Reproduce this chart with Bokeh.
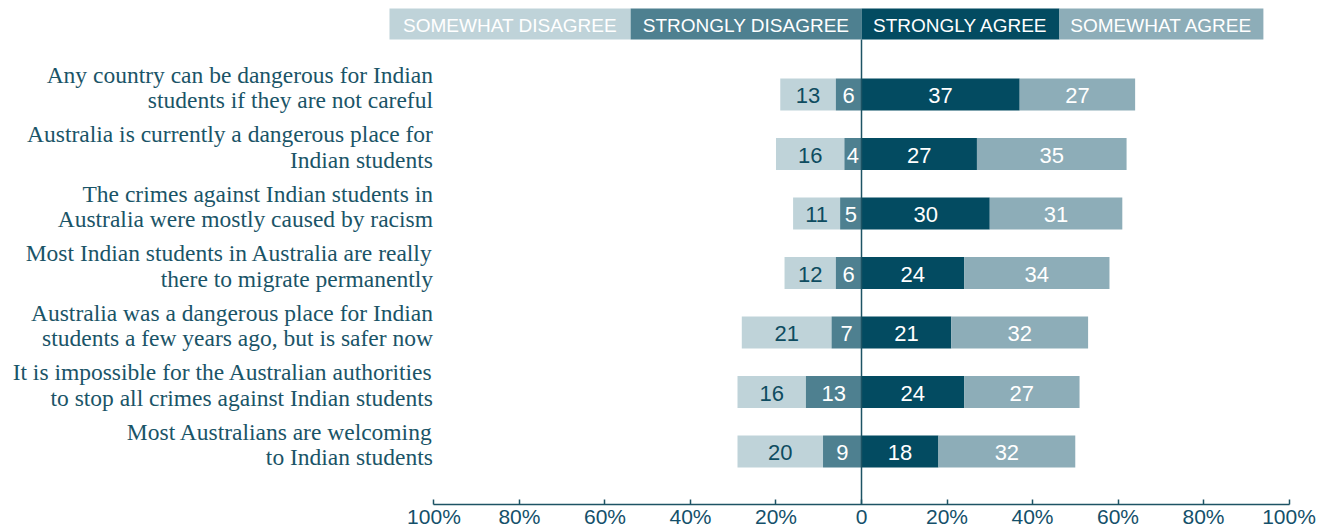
from bokeh.plotting import figure
from bokeh.models import Range1d, FixedTicker, ColumnDataSource
from bokeh.core.properties import value
from bokeh.embed import file_html
from bokeh.resources import INLINE

# ---------------- data ----------------
statements = [
    "Any country can be dangerous for Indian\nstudents if they are not careful",
    "Australia is currently a dangerous place for\nIndian students",
    "The crimes against Indian students in\nAustralia were mostly caused by racism",
    "Most Indian students in Australia are really\nthere to migrate permanently",
    "Australia was a dangerous place for Indian\nstudents a few years ago, but is safer now",
    "It is impossible for the Australian authorities\nto stop all crimes against Indian students",
    "Most Australians are welcoming\nto Indian students",
]
somewhat_disagree = [13, 16, 11, 12, 21, 16, 20]
strongly_disagree = [6, 4, 5, 6, 7, 13, 9]
strongly_agree = [37, 27, 30, 24, 21, 24, 18]
somewhat_agree = [27, 35, 31, 34, 32, 27, 32]
series_names = ["SOMEWHAT DISAGREE", "STRONGLY DISAGREE", "STRONGLY AGREE", "SOMEWHAT AGREE"]
tick_values = [-100, -80, -60, -40, -20, 0, 20, 40, 60, 80, 100]
tick_labels = ["100%", "80%", "60%", "40%", "20%", "0", "20%", "40%", "60%", "80%", "100%"]

# ---------------- style ----------------
C_SWD = "#BFD3D9"
C_SD = "#4E8090"
C_SA = "#034B61"
C_SWA = "#8DADB8"
TXT = "#1A5467"
DARK_TXT = "#0E4C60"
SANS = "Liberation Sans"
SERIF = "Liberation Serif"

rows = list(range(len(statements)))

# layout: frame spans whole width; row spacing 59.5 px, first row centre 94 px
FRAME_BOTTOM = 504
Y0, DY = 94.0, 59.5
y_lo = (FRAME_BOTTOM - Y0) / DY
y_hi = (0 - Y0) / DY
PX = 4.2755   # px per percent
ZERO_PX = 861
W = 1320
H = 532

p = figure(width=W, height=H, output_backend="svg", toolbar_location=None,
           x_range=Range1d(-ZERO_PX / PX, (W - ZERO_PX) / PX), y_range=Range1d(y_lo, y_hi),
           min_border_left=0, min_border_right=0, min_border_top=0,
           min_border_bottom=H - FRAME_BOTTOM, y_axis_location=None)
p.outline_line_color = None
p.xgrid.visible = False
p.ygrid.visible = False
p.background_fill_color = "white"
p.border_fill_color = "white"

BAR_H = 32 / DY

# bars
sd_left = [-v for v in strongly_disagree]
swd_left = [-(a + b) for a, b in zip(strongly_disagree, somewhat_disagree)]
sa_right = list(strongly_agree)
swa_right = [a + b for a, b in zip(strongly_agree, somewhat_agree)]

src = ColumnDataSource(dict(
    y=rows,
    swd_l=swd_left, swd_r=sd_left,
    sd_l=sd_left, sd_r=[0] * len(rows),
    sa_l=[0] * len(rows), sa_r=sa_right,
    swa_l=sa_right, swa_r=swa_right,
    swd_t=[str(v) for v in somewhat_disagree],
    sd_t=[str(v) for v in strongly_disagree],
    sa_t=[str(v) for v in strongly_agree],
    swa_t=[str(v) for v in somewhat_agree],
    swd_c=[(a + b) / 2 for a, b in zip(swd_left, sd_left)],
    sd_c=[a / 2 for a in sd_left],
    sa_c=[a / 2 for a in sa_right],
    swa_c=[(a + b) / 2 for a, b in zip(sa_right, swa_right)],
))

for l, r, c in [("swd_l", "swd_r", C_SWD), ("sd_l", "sd_r", C_SD),
                ("sa_l", "sa_r", C_SA), ("swa_l", "swa_r", C_SWA)]:
    p.hbar(y="y", left=l, right=r, height=BAR_H, fill_color=c, line_color=None, source=src)

for xc, t, col in [("swd_c", "swd_t", DARK_TXT), ("sd_c", "sd_t", "white"),
                   ("sa_c", "sa_t", "white"), ("swa_c", "swa_t", "white")]:
    p.text(x=xc, y="y", text=t, source=src, text_align="center", text_baseline="middle",
           text_font=value(SANS), text_font_size="22px", text_color=col, y_offset=1)

# legend bar across top (pixel rows 8..39)
leg_y = (23.5 - Y0) / DY
leg_h = 31 / DY
leg_edges = [-110.4, -54.0, 0.0, 46.3, 94.0]
leg_colors = [C_SWD, C_SD, C_SA, C_SWA]

# zero line
p.segment(x0=[0], y0=[leg_y + leg_h / 2], x1=[0], y1=[y_lo], line_color="#1D5364", line_width=1.5)

p.hbar(y=[leg_y] * 4, left=leg_edges[:-1], right=leg_edges[1:], height=leg_h,
       fill_color=leg_colors, line_color=None)
p.text(x=[(a + b) / 2 for a, b in zip(leg_edges[:-1], leg_edges[1:])], y=[leg_y] * 4,
       text=series_names, text_align="center", text_baseline="middle",
       text_font=value(SANS), text_font_size="19px", text_color="white", y_offset=1)

# category labels (right aligned against axis start)
p.text(x=[-100] * len(rows), y=[r - 7 / DY for r in rows], text=statements,
       text_align="right", text_baseline="middle", text_font=value(SERIF),
       text_font_size="23.5px", text_color=TXT, text_line_height=0.98, x_offset=-1)

# x axis
ax = p.xaxis[0]
ax.bounds = (-100, 100)
ax.ticker = FixedTicker(ticks=tick_values)
ax.major_label_overrides = {v: l for v, l in zip(tick_values, tick_labels)}
ax.axis_line_color = "#1D5364"
ax.axis_line_width = 1.5
ax.major_tick_line_color = "#1D5364"
ax.major_tick_line_width = 1.5
ax.major_tick_in = 5
ax.major_tick_out = 0
ax.minor_tick_line_color = None
ax.major_label_standoff = 0
ax.major_label_text_font = SANS
ax.major_label_text_font_size = "21px"
ax.major_label_text_color = "#14506A"

open("out.html", "w").write(file_html(p, INLINE))
